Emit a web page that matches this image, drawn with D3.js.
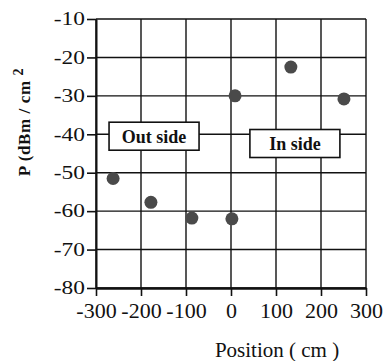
<!DOCTYPE html>
<html>
<head>
  <meta charset="utf-8">
  <script src="https://d3js.org/d3.v7.min.js"></script>
  <style>
    body { margin: 0; background: #fff; }
    svg { display: block; font-family: "Liberation Serif", "Times New Roman", serif; }
  </style>
</head>
<body>
<script>
  // measured points: position (cm) vs power (dBm/cm2)
  var positions = [-262, -178, -87, 2, 9, 133, 251];
  var powers = [-51.5, -57.7, -61.8, -62, -30, -22.5, -30.8];
  var xTicks = [-300, -200, -100, 0, 100, 200, 300];
  var yTicks = [-10, -20, -30, -40, -50, -60, -70, -80];
  var labels = [
    { text: "Out side", x: -171, y: -40.5 },
    { text: "In side", x: 142, y: -42.4 }
  ];

  var width = 388, height = 361;
  var svg = d3.select("body").append("svg")
      .attr("width", width)
      .attr("height", height);

  var x = d3.scaleLinear().domain([-300, 300]).range([96, 366]);
  var y = d3.scaleLinear().domain([-80, -10]).range([288, 19]);

  // plain hyphen like the original, not the unicode minus
  var fmt = function (d) { return String(d); };

  // grid
  svg.append("g").selectAll("line.v")
      .data(xTicks).enter().append("line")
      .attr("x1", d => x(d)).attr("x2", d => x(d))
      .attr("y1", y(-10)).attr("y2", y(-80))
      .attr("stroke", "#111").attr("stroke-width", 1.4);
  svg.append("g").selectAll("line.h")
      .data(yTicks).enter().append("line")
      .attr("x1", x(-300)).attr("x2", x(300))
      .attr("y1", d => y(d)).attr("y2", d => y(d))
      .attr("stroke", "#111").attr("stroke-width", 1.4);

  // axes
  var yAxis = svg.append("g")
      .attr("transform", "translate(" + x(-300) + ",0)")
      .call(d3.axisLeft(y).tickValues(yTicks).tickFormat(fmt).tickSize(9).tickSizeOuter(0));
  yAxis.select(".domain").attr("stroke", "#111").attr("stroke-width", 2);
  yAxis.selectAll(".tick line").attr("stroke", "#111").attr("stroke-width", 1.6);
  yAxis.selectAll("text")
      .attr("font-family", "Liberation Serif, serif")
      .attr("font-size", 18)
      .attr("fill", "#111")
      .attr("x", -11 / 1.3)
      .attr("transform", "scale(1.3,1)");

  var xAxis = svg.append("g")
      .attr("transform", "translate(0," + y(-80) + ")")
      .call(d3.axisBottom(x).tickValues(xTicks).tickFormat(fmt).tickSize(8).tickSizeOuter(0).tickPadding(6));
  xAxis.select(".domain").attr("stroke", "#111").attr("stroke-width", 2.6);
  xAxis.selectAll(".tick line").attr("stroke", "#111").attr("stroke-width", 1.6);
  xAxis.selectAll("text")
      .attr("font-family", "Liberation Serif, serif")
      .attr("font-size", 22)
      .attr("fill", "#111");

  // label boxes
  labels.forEach(function (l) {
    var g = svg.append("g");
    g.append("rect")
        .attr("x", x(l.x) - 45).attr("y", y(l.y) - 14)
        .attr("width", 90).attr("height", 28)
        .attr("fill", "#fff").attr("stroke", "#111").attr("stroke-width", 1.6);
    g.append("text")
        .attr("x", x(l.x)).attr("y", y(l.y))
        .attr("text-anchor", "middle")
        .attr("dy", "0.35em")
        .attr("font-size", 18)
        .attr("font-weight", "bold")
        .attr("fill", "#111")
        .text(l.text);
  });

  // points
  svg.append("g").selectAll("circle")
      .data(positions).enter().append("circle")
      .attr("cx", d => x(d))
      .attr("cy", (d, i) => y(powers[i]))
      .attr("r", 6.5)
      .attr("fill", "#4a4a4a");

  // axis titles
  svg.append("text")
      .attr("x", 277).attr("y", 357)
      .attr("text-anchor", "middle")
      .attr("font-size", 21)
      .attr("fill", "#111")
      .text("Position  ( cm )");

  var yt = svg.append("text")
      .attr("transform", "translate(30,122) rotate(-90)")
      .attr("text-anchor", "middle")
      .attr("font-size", 17)
      .attr("font-weight", "bold")
      .attr("letter-spacing", 0.6)
      .attr("fill", "#111");
  yt.append("tspan").text("P (dBm / cm  ");
  yt.append("tspan").attr("dy", -7).attr("font-size", 14).text("2");
</script>
</body>
</html>
